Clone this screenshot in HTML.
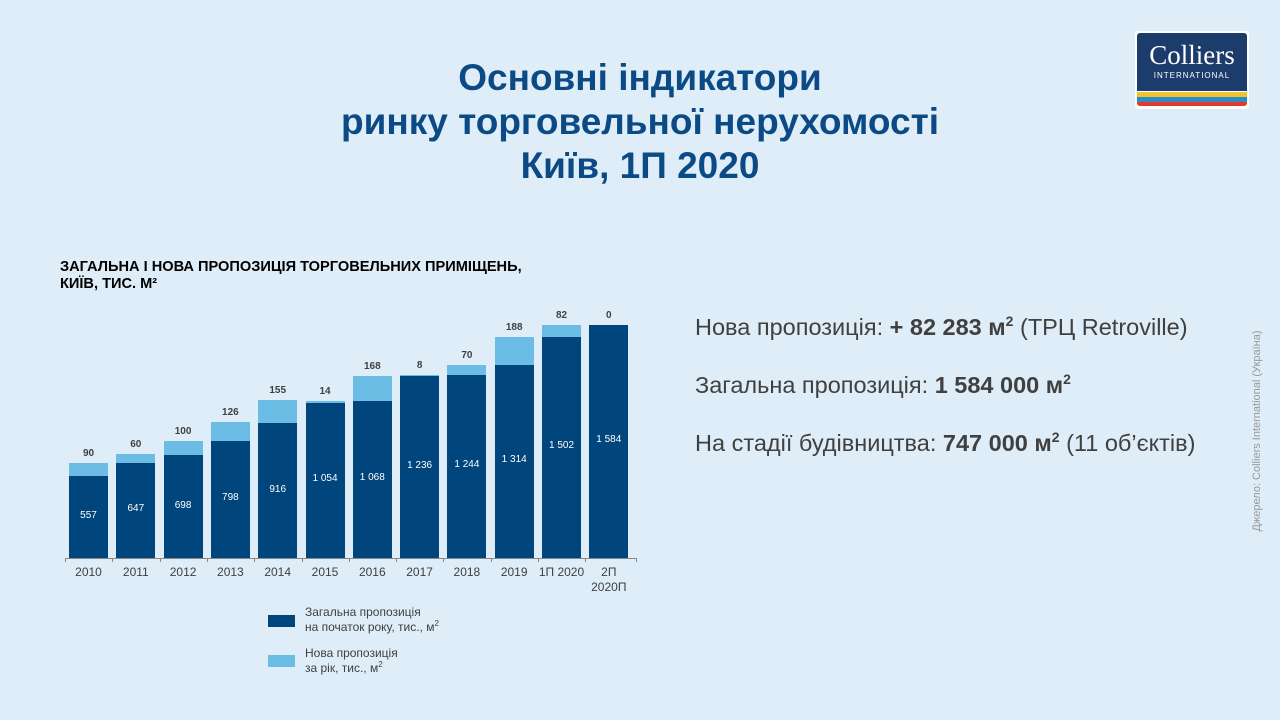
<!DOCTYPE html>
<html><head><meta charset="utf-8"><style>
body{margin:0;width:1280px;height:720px;background:#deedf8;position:relative;overflow:hidden;font-family:"Liberation Sans",sans-serif}
.a{position:absolute}
.t{color:#0b4a85;font-weight:bold;font-size:37px;text-align:center;left:190px;width:900px;line-height:44px;top:56px}
.d{background:#00457c}.l{background:#6cbde6}
.lab{font-size:12px;text-align:center;width:60px}
.info{font-size:23.5px;color:#404040;left:695px;white-space:nowrap}
sup{font-size:14px;line-height:0}
</style></head><body>
<div class="a t">Основні індикатори<br>ринку торговельної нерухомості<br>Київ, 1П 2020</div>
<div class="a" style="left:1135px;top:31px;width:114px;height:78px;background:#fff;border-radius:3px"></div>
<div class="a" style="left:1137px;top:33px;width:110px;height:58px;background:#1c3d6b;border-radius:3px 3px 0 0"></div>
<div class="a" style="left:1137px;top:40px;width:110px;text-align:center;color:#fff;font-family:'Liberation Serif',serif;font-size:27px">Colliers</div>
<div class="a" style="left:1137px;top:71px;width:110px;text-align:center;color:#fff;font-size:8px;letter-spacing:1px">INTERNATIONAL</div>
<div class="a" style="left:1137px;top:92px;width:110px;height:5px;background:#f2c230"></div>
<div class="a" style="left:1137px;top:97px;width:110px;height:5px;background:#2a8dc8"></div>
<div class="a" style="left:1137px;top:102px;width:110px;height:4px;background:#e03a2e;border-radius:0 0 3px 3px"></div>
<div class="a" style="left:60px;top:259px;font-size:14.6px;font-weight:bold;color:#000;line-height:17px;white-space:nowrap">ЗАГАЛЬНА І НОВА ПРОПОЗИЦІЯ ТОРГОВЕЛЬНИХ ПРИМІЩЕНЬ,<br>КИЇВ, ТИС. М²</div>
<div id="c"></div>
<div class="a" style="left:65px;top:558px;width:572px;height:1px;background:#888"></div>
<div class="a d" style="left:268px;top:615px;width:27px;height:12px"></div>
<div class="a" style="left:305px;top:605px;font-size:12px;color:#404040;line-height:15px">Загальна пропозиція<br>на початок року, тис., м<sup style="font-size:8px">2</sup></div>
<div class="a l" style="left:268px;top:655px;width:27px;height:12px"></div>
<div class="a" style="left:305px;top:646px;font-size:12px;color:#404040;line-height:15px">Нова пропозиція<br>за рік, тис., м<sup style="font-size:8px">2</sup></div>
<div class="a info" style="top:314px">Нова пропозиція: <b>+ 82 283 м<sup>2</sup></b> (ТРЦ Retroville)</div>
<div class="a info" style="top:372px">Загальна пропозиція: <b>1 584 000 м<sup>2</sup></b></div>
<div class="a info" style="top:430px">На стадії будівництва: <b>747 000 м<sup>2</sup></b> (11 об’єктів)</div>
<div class="a" style="left:1257px;top:425px;width:250px;margin-left:-125px;text-align:center;transform:rotate(-90deg);font-size:11px;color:#999;white-space:nowrap">Джерело: Colliers International (Україна)</div>
<script>
var D=[557,647,698,798,916,1054,1068,1236,1244,1314,1502,1584],N=[90,60,100,126,155,14,168,8,70,188,82,0],
Y=["2010","2011","2012","2013","2014","2015","2016","2017","2018","2019","1П 2020","2П<br>2020П"],h="",s=0.1472,b=558;
for(var i=0;i<12;i++){var x=69+i*47.3,dh=D[i]*s,nh=N[i]*s;
h+='<div class="a d" style="left:'+x+'px;top:'+(b-dh)+'px;width:39px;height:'+dh+'px"></div>';
if(nh>0)h+='<div class="a l" style="left:'+x+'px;top:'+(b-dh-nh)+'px;width:39px;height:'+nh+'px"></div>';
h+='<div class="a lab" style="left:'+(x-10.5)+'px;top:'+(b-dh/2-7)+'px;color:#fff;font-size:10px">'+D[i].toLocaleString('en').replace(',',' ')+'</div>';
h+='<div class="a lab" style="left:'+(x-10.5)+'px;top:'+(b-dh-nh-15)+'px;color:#404040;font-weight:bold;font-size:10px">'+N[i]+'</div>';
h+='<div class="a lab" style="left:'+(x-10.5)+'px;top:565px;color:#404040;line-height:15px;white-space:nowrap">'+Y[i]+'</div>';
h+='<div class="a" style="left:'+(x-4)+'px;top:558px;width:1px;height:4px;background:#888"></div>';}
h+='<div class="a" style="left:636px;top:558px;width:1px;height:4px;background:#888"></div>';
document.getElementById('c').innerHTML=h;
</script>
</body></html>
